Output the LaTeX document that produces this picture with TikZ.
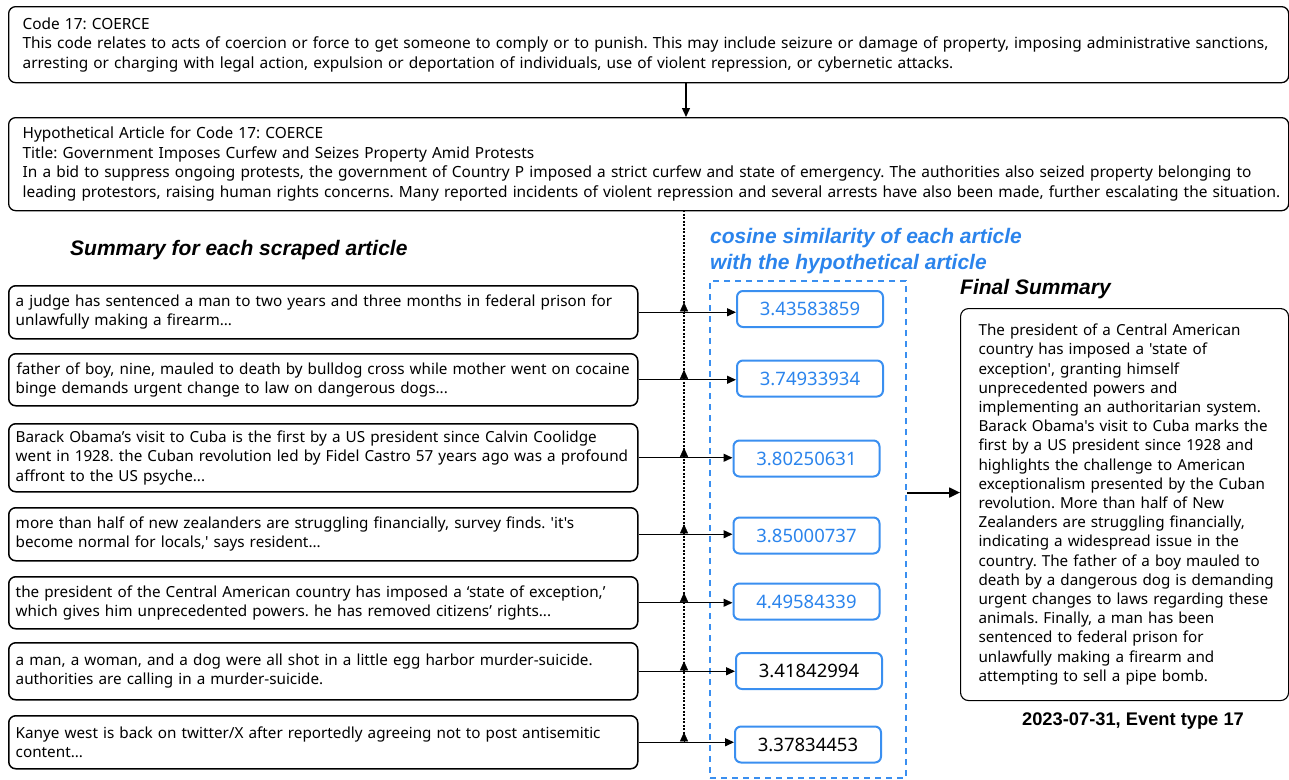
\documentclass[tikz,border=0pt]{standalone}
\usepackage{fontspec}
\setmainfont{Noto Sans}[Ligatures=TeXOff]
\newfontfamily\headfont{Liberation Sans}[Ligatures=TeXOff]
\usetikzlibrary{arrows.meta,calc}
\definecolor{cblue}{HTML}{3A8FF0}
\definecolor{tblue}{HTML}{2B84EC}
\frenchspacing
\hbadness=10000 \hfuzz=100pt
\newcommand\oneline[1]{\mbox{#1}}
\begin{document}
\begin{tikzpicture}[x=1pt,y=-1pt,
  topbox/.style={draw,line width=1.3pt,rounded corners=7pt,anchor=north west,align=left,inner xsep=14pt,inner ysep=0pt,text width=1252pt,font=\fontsize{15.4}{19.6}\selectfont},
  leftbox/.style={draw,line width=1.5pt,rounded corners=7pt,anchor=north west,align=left,inner xsep=7pt,inner ysep=0pt,text width=615pt,font=\fontsize{15.25}{19.4}\selectfont},
  valbox/.style={draw=cblue,line width=2pt,rounded corners=6pt,minimum width=146pt,minimum height=36pt,inner sep=0pt,font=\fontsize{18.5}{20}\selectfont},
  head/.style={font=\headfont\fontsize{21}{26}\selectfont\bfseries\itshape,inner sep=0pt},
  conn/.style={line width=1.4pt,-{Triangle[width=8pt,length=9pt]}},
  tipup/.style={-{Triangle[width=8pt,length=9pt]}},
]
\useasboundingbox (0,0) rectangle (1289,779);

% top boxes
\node[topbox,minimum height=76pt] (code) at (8,6) {\oneline{Code 17: COERCE}\\
\oneline{This code relates to acts of coercion or force to get someone to comply or to punish. This may include seizure or damage of property, imposing administrative sanctions,}\\
\oneline{arresting or charging with legal action, expulsion or deportation of individuals, use of violent repression, or cybernetic attacks.}};
\node[topbox,minimum height=93pt] (hyp) at (8,117) {\oneline{Hypothetical Article for Code 17: COERCE}\\
\oneline{Title: Government Imposes Curfew and Seizes Property Amid Protests}\\
\oneline{In a bid to suppress ongoing protests, the government of Country P imposed a strict curfew and state of emergency. The authorities also seized property belonging to}\\
\oneline{leading protestors, raising human rights concerns. Many reported incidents of violent repression and several arrests have also been made, further escalating the situation.}};
\coordinate (a1) at (686,82);
\coordinate (a2) at (686,117);
\draw[line width=1.3pt,-{Triangle[width=8pt,length=9pt]}] (a1) -- (a2);

% headings
\node[head,anchor=west] (sumhead) at (70,250) {Summary for each scraped article};
\node[head,anchor=west,text=tblue,align=left] (coshead) at (710,251) {cosine similarity of each article\\with the hypothetical article};
\node[head,anchor=west] (finhead) at (960,289) {Final Summary};

% left boxes
\node[leftbox,minimum height=53pt] (l1) at (8,285) {\oneline{a judge has sentenced a man to two years and three months in federal prison for}\\\oneline{unlawfully making a firearm...}};
\node[leftbox,minimum height=52pt] (l2) at (8,353) {\oneline{\hspace*{1pt}father of boy, nine, mauled to death by bulldog cross while mother went on cocaine}\\\oneline{binge demands urgent change to law on dangerous dogs...}};
\node[leftbox,minimum height=68pt] (l3) at (8,423) {\oneline{Barack Obama’s visit to Cuba is the first by a US president since Calvin Coolidge}\\\oneline{went in 1928. the Cuban revolution led by Fidel Castro 57 years ago was a profound}\\\oneline{affront to the US psyche...}};
\node[leftbox,minimum height=53pt] (l4) at (8,507) {\oneline{more than half of new zealanders are struggling financially, survey finds. 'it's}\\\oneline{become normal for locals,' says resident...}};
\node[leftbox,minimum height=52pt] (l5) at (8,576) {\oneline{the president of the Central American country has imposed a ‘state of exception,’}\\\oneline{which gives him unprecedented powers. he has removed citizens’ rights...}};
\node[leftbox,minimum height=57pt] (l6) at (8,642) {\oneline{a man, a woman, and a dog were all shot in a little egg harbor murder-suicide.}\\\oneline{authorities are calling in a murder-suicide.}};
\node[leftbox,minimum height=53pt] (l7) at (8,715) {\oneline{Kanye west is back on twitter/X after reportedly agreeing not to post antisemitic}\\\oneline{content...}};

% value boxes
\node[valbox,text=tblue] (v1) at (810,309) {3.43583859};
\node[valbox,text=tblue] (v2) at (810,378.5) {3.74933934};
\node[valbox,text=tblue] (v3) at (806.5,458.5) {3.80250631};
\node[valbox,text=tblue] (v4) at (806.5,535.5) {3.85000737};
\node[valbox,text=tblue] (v5) at (806.5,601.5) {4.49584339};
\node[valbox] (v6) at (809,671) {3.41842994};
\node[valbox] (v7) at (808,744.5) {3.37834453};

% dashed group
\node[draw=cblue,line width=2pt,dash pattern=on 6pt off 5pt,minimum width=196pt,minimum height=497pt,anchor=north west,inner sep=0pt] (grp) at (709,280) {};

% dotted spine
\coordinate (dtop) at (684,210);
\coordinate (dbot) at (684,742);
\draw[line width=2.2pt,dash pattern=on 2pt off 1.5pt] (dtop) -- (dbot);

% connectors
\foreach \i in {1,...,7}{
  \draw[conn] (l\i.east) -- (v\i.west |- l\i.east);
  \draw[tipup] (l\i.east -| dtop) -- ++(0,-10);
}

% final summary
\node[draw,line width=1.1pt,rounded corners=8pt,anchor=north west,align=left,inner xsep=18pt,inner ysep=0pt,text width=292pt,minimum height=392pt,font=\fontsize{15.2}{19.2}\selectfont] (fin) at (960,308) {\oneline{The president of a Central American}\\\oneline{country has imposed a 'state of}\\\oneline{exception', granting himself}\\\oneline{unprecedented powers and}\\\oneline{implementing an authoritarian system.}\\\oneline{Barack Obama's visit to Cuba marks the}\\\oneline{first by a US president since 1928 and}\\\oneline{highlights the challenge to American}\\\oneline{exceptionalism presented by the Cuban}\\\oneline{revolution. More than half of New}\\\oneline{Zealanders are struggling financially,}\\\oneline{indicating a widespread issue in the}\\\oneline{country. The father of a boy mauled to}\\\oneline{death by a dangerous dog is demanding}\\\oneline{urgent changes to laws regarding these}\\\oneline{animals. Finally, a man has been}\\\oneline{sentenced to federal prison for}\\\oneline{unlawfully making a firearm and}\\\oneline{attempting to sell a pipe bomb.}};
\draw[line width=2pt,-{Triangle[width=10pt,length=11pt]}] (grp.east |- fin.west) ++(0,-12) coordinate (gx) -- (fin.west |- gx);

\node[font=\headfont\fontsize{18.3}{20}\selectfont\bfseries,inner sep=0pt] (date) at (1133,721) {2023-07-31, Event type 17};
\end{tikzpicture}
\end{document}
